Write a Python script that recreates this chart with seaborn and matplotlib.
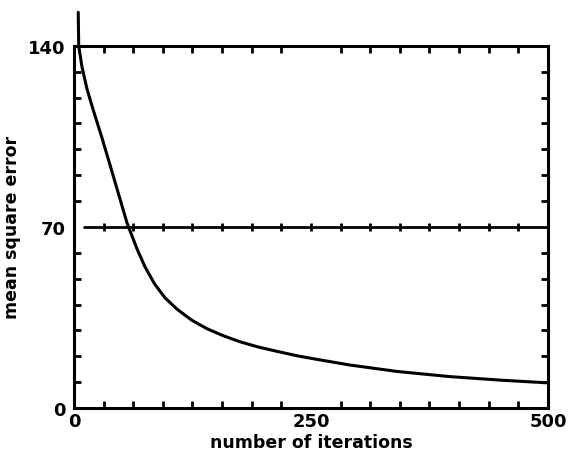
import numpy as np
import pandas as pd
import seaborn as sns
import matplotlib.pyplot as plt
from matplotlib.ticker import MultipleLocator

# values
iterations = [4.5, 5, 8.4, 13.7, 20, 29.5, 38, 46.4, 56, 66.5, 75, 85, 96,
              108.7, 124, 140, 157, 175, 194, 214, 235, 256, 291, 341, 397,
              452, 500]
mse = [153, 140, 132, 123.4, 115.6, 104.5, 94, 83.5, 71.5, 61.5, 54.5, 48,
       42.6, 38.2, 34, 30.7, 28, 25.6, 23.6, 21.9, 20.2, 18.8, 16.6, 14.1,
       12.1, 10.7, 9.7]
ref_level = 70
ref_start = 11
x_ticks = [0, 250, 500]
y_ticks = [0, 70, 140]

df = pd.DataFrame({'iterations': iterations, 'mse': mse})

sns.set_style('ticks')
plt.rcParams['font.family'] = ['DejaVu Sans']
plt.rcParams['text.color'] = 'black'
plt.rcParams['axes.labelcolor'] = 'black'

fig = plt.figure(figsize=(5.69, 4.60), dpi=100)
ax = fig.add_axes([0.130, 0.111, 0.833, 0.787])

sns.lineplot(data=df, x='iterations', y='mse', ax=ax, color='black',
             linewidth=2.2, errorbar=None)
for l in ax.lines:
    l.set_clip_on(False)

# horizontal reference line at 70 with little tick marks along it
minor_x = np.arange(0, 501, 31.25)
ax.plot([ref_start, 500], [ref_level, ref_level], color='black', linewidth=2)
ax.plot(minor_x[1:-1], [ref_level] * len(minor_x[1:-1]), linestyle='none',
        marker='|', markersize=6, markeredgewidth=2, color='black')

ax.set_xlim(0, 500)
ax.set_ylim(0, 140)
ax.set_xticks(x_ticks)
ax.set_yticks(y_ticks)
ax.xaxis.set_minor_locator(MultipleLocator(31.25))
ax.yaxis.set_minor_locator(MultipleLocator(10))
ax.tick_params(which='both', direction='in', top=True, right=True,
               width=2, color='black')
ax.tick_params(which='major', length=0, labelsize=13, labelcolor='black')
ax.tick_params(which='minor', length=5)
ax.tick_params(axis='x', pad=3)
ax.tick_params(axis='y', pad=6)
for lab in ax.get_xticklabels() + ax.get_yticklabels():
    lab.set_fontweight('bold')

for s in ax.spines.values():
    s.set_linewidth(2.2)
    s.set_color('black')

ax.set_xlabel('number of iterations', fontsize=12.5, fontweight='bold',
              labelpad=2)
ax.set_ylabel('mean square error', fontsize=12.5, fontweight='bold',
              labelpad=5)

fig.savefig('out.png', dpi=100)
